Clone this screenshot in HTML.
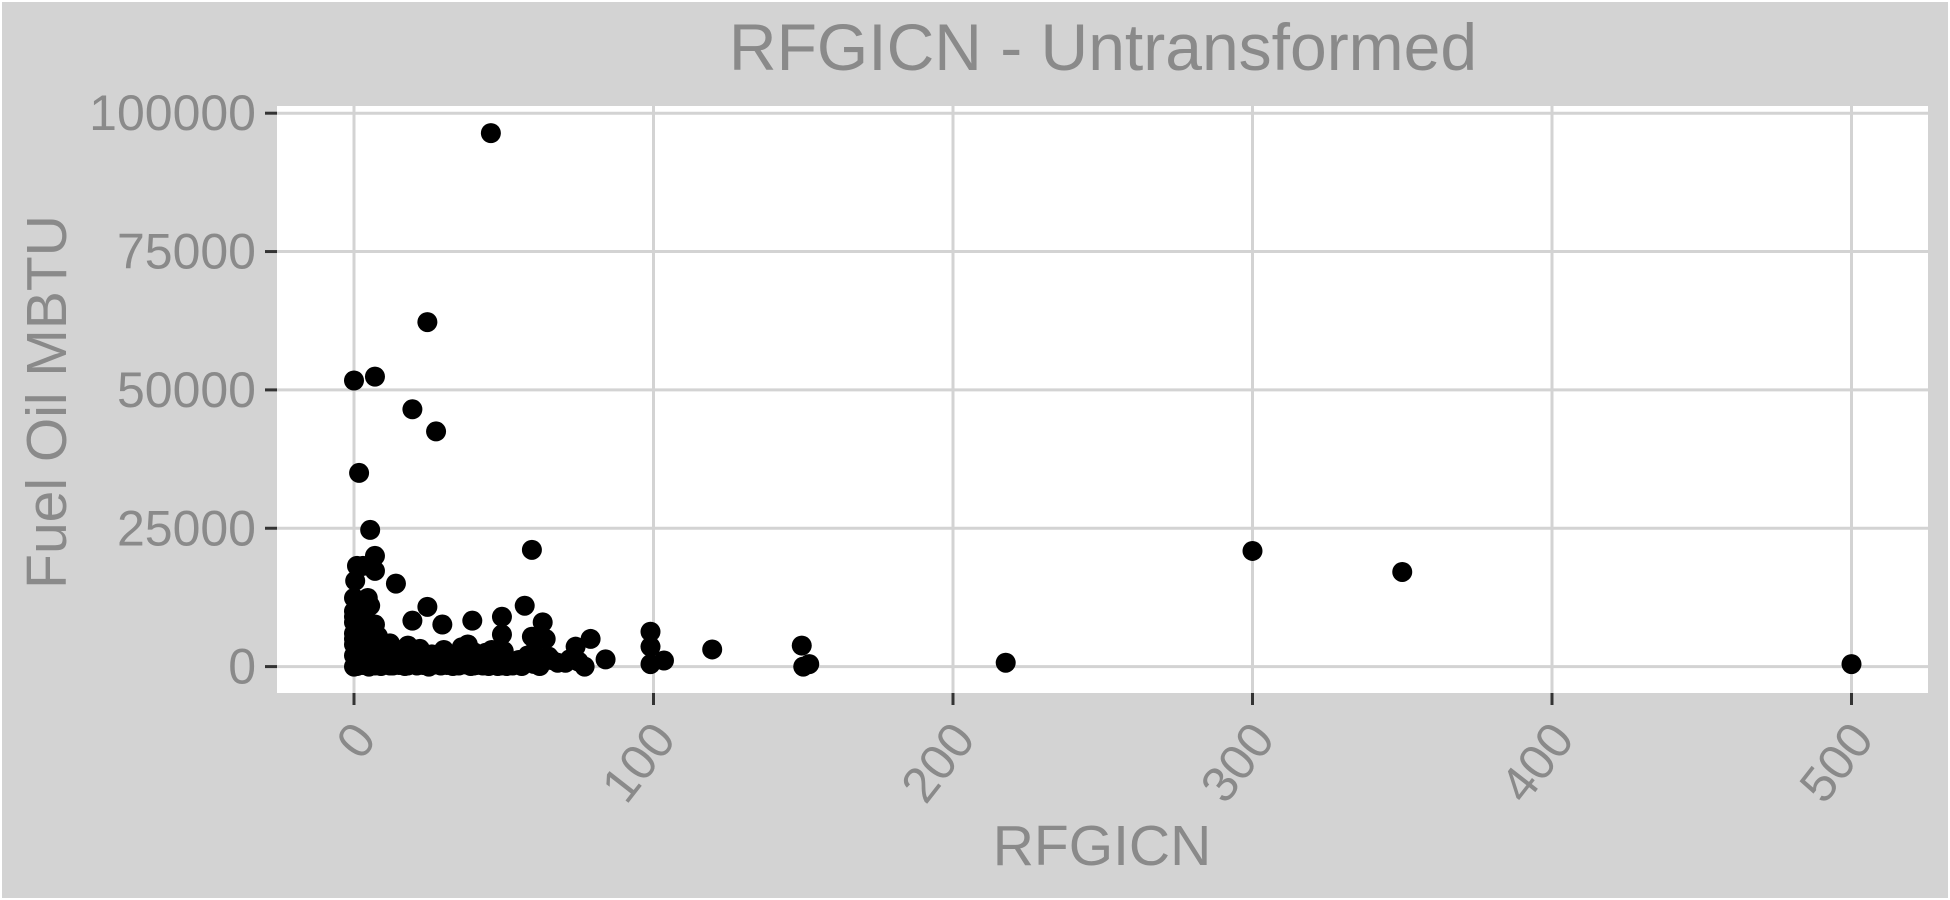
<!DOCTYPE html>
<html><head><meta charset="utf-8"><style>
html,body{margin:0;padding:0;background:#fff;}
svg{display:block;}
text{font-family:"Liberation Sans",Arial,sans-serif;}
</style></head><body>
<svg id="chart" width="1950" height="900" viewBox="0 0 1950 900" xmlns="http://www.w3.org/2000/svg">
<rect x="2" y="2" width="1946" height="896" fill="#d3d3d3"/>
<rect x="277" y="106" width="1651" height="587" fill="#ffffff"/>
<g id="grid"></g><g id="ticks"></g><g id="points"></g>
<text x="1103" y="70" text-anchor="middle" font-size="66" fill="#8a8a8a">RFGICN - Untransformed</text>
<text x="1102" y="865" text-anchor="middle" font-size="57" fill="#8a8a8a">RFGICN</text>
<text transform="translate(66,402) rotate(-90)" text-anchor="middle" font-size="57" fill="#8a8a8a">Fuel Oil MBTU</text>
</svg>
<script>
const xTicks=[0,100,200,300,400,500];
const yTicks=[0,25000,50000,75000,100000];
const xVals=[45.7,24.5,0,7,19.5,27.4,1.7,5.4,59.4,300,350,7,7,1,3,0.4,14,0,4.6,5.4,24.5,49.4,0,39.5,19.5,29.5,7,79,99,64,59.4,49.4,149.5,119.6,84,99,103.5,150,152,217.6,500,74,70.6,77,99,
0,0,0,0,0,0,1,1,2,2,3,3,4,4,5,5,6,6,8,8,10,10,12,12,14,15,16,18,18,20,20,22,22,24,25,26,28,30,30,32,33,35,36,38,38,40,40,42,44,45,46,48,48,50,50,52,55,58,60,60,62,62,65,68,72,75,
2,3,6,9,11,13,17,21,27,31,34,37,41,47,53,57,63,0,1,4,
1,3,5,7,9,11,13,15,17,19,21,23,25,27,29,31,33,35,37,39,41,43,45,47,49,51,53,56,61,66,1,4,8,12,16,20,24,28,32,36,40,44,48,2,6,10,14,18,22,26,30,34,38,42];
const yVals=[96400,62250,51700,52400,46500,42500,35000,24700,21100,20900,17100,20000,17300,18200,18200,15500,15000,12400,12400,11000,10800,9000,9000,8300,8300,7600,7600,5000,6300,5000,5400,5800,3800,3100,1300,3600,1100,0,450,700,450,3600,700,0,450,
0,2000,4000,6000,8000,10000,500,7000,3000,9000,1000,5000,2500,8000,0,6500,1500,4500,300,5500,1000,3500,200,4200,2000,600,3000,200,3800,1000,2500,400,3200,1200,0,2200,800,1500,3000,400,2000,800,3500,1400,4000,200,2600,900,1800,500,3000,100,1600,800,2800,300,1200,2000,500,2600,100,1200,1800,700,
1300,900,6000,3000,1500,2800,700,2200,1000,1500,400,2000,1000,600,1400,800,300,11000,8000,5000,
200,400,100,300,500,200,100,400,200,300,100,500,200,300,100,400,200,300,100,200,400,100,300,200,100,300,200,100,200,100,1500,1200,1000,1500,800,1200,900,700,1500,1100,1300,1000,800,2500,2200,1800,2000,1600,2100,1700,1900,1500,1800,1400];
const X=v=>354+v*2.995, Y=v=>666.6-v*0.005534;
const NS="http://www.w3.org/2000/svg";
const grid=document.getElementById('grid'),ticks=document.getElementById('ticks'),pts=document.getElementById('points');
function mk(tag,attrs,parent){const e=document.createElementNS(NS,tag);for(const k in attrs)e.setAttribute(k,attrs[k]);parent.appendChild(e);return e;}
xTicks.forEach(t=>{
 const l=mk('line',{x1:X(t),x2:X(t),y1:106,y2:693,stroke:'#d3d3d3','stroke-width':3},grid);
 
 
 const k=mk('line',{x1:X(t),x2:X(t),y1:693,y2:705,stroke:'#333','stroke-width':3},ticks);
 
 
 const tx=mk('text',{transform:`translate(${X(t)+24},${740}) rotate(-52)`,'text-anchor':'end','font-size':50,fill:'#8a8a8a'},ticks);
 tx.textContent=t;
 
 
});
yTicks.forEach(t=>{
 const l=mk('line',{x1:277,x2:1928,y1:Y(t),y2:Y(t),stroke:'#d3d3d3','stroke-width':3},grid);
 
 
 const k=mk('line',{x1:265,x2:277,y1:Y(t),y2:Y(t),stroke:'#333','stroke-width':3},ticks);
 
 
 const tx=mk('text',{x:256,y:Y(t)+17,'text-anchor':'end','font-size':50,fill:'#8a8a8a'},ticks);
 tx.textContent=t;
 
 
});
const n=Math.min(xVals.length,yVals.length);
for(let i=0;i<n;i++){
 const c=mk('circle',{cx:X(xVals[i]),cy:Y(yVals[i]),r:10,fill:'#000'},pts);
 
 
}
</script>
</body></html>
